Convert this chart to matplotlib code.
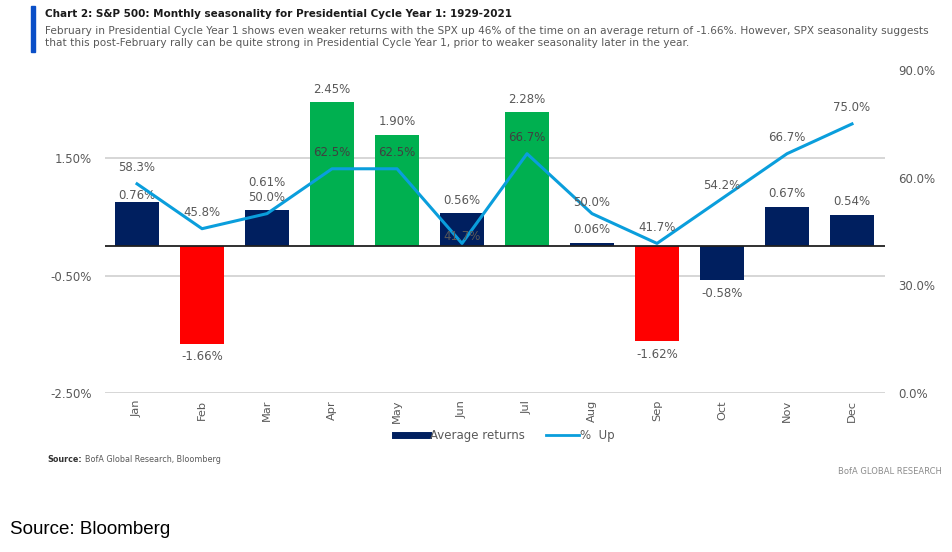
import matplotlib
matplotlib.use('Agg')

import matplotlib.pyplot as plt
from matplotlib.lines import Line2D
import numpy as np

# 데이터
months = ['Jan', 'Feb', 'Mar', 'Apr', 'May', 'Jun', 'Jul', 'Aug', 'Sep', 'Oct', 'Nov', 'Dec']
avg_returns = [0.76, -1.66, 0.61, 2.45, 1.90, 0.56, 2.28, 0.06, -1.62, -0.58, 0.67, 0.54]
pct_up = [58.3, 45.8, 50.0, 62.5, 62.5, 41.7, 66.7, 50.0, 41.7, 54.2, 66.7, 75.0]
left_ticks = [-2.5, -0.5, 1.5]
right_ticks = [0, 30, 60, 90]

NAVY = '#001F5F'
RED = '#FF0000'
GREEN = '#00B050'
LINE = '#0A9EDC'
GRAY = '#595959'

plt.rcParams['font.family'] = ['DejaVu Sans']

# 막대 색상: 강한 달은 초록, 약한 달은 빨강
green_months = ['Apr', 'May', 'Jul']
red_months = ['Feb', 'Sep']
colors = [GREEN if m in green_months else RED if m in red_months else NAVY for m in months]

fig = plt.figure(figsize=(9.52, 5.52), dpi=100)
ax = fig.add_axes([0.1098, 0.288, 0.8193, 0.585])
x = np.arange(len(months))

ax.bar(x, avg_returns, width=0.68, color=colors, zorder=2)
ax.set_xlim(-0.5, 11.5)
ax.set_ylim(-2.5, 3.0)
ax.set_yticks(left_ticks)
ax.set_yticklabels([f'{v:.2f}%' for v in left_ticks], color=GRAY, fontsize=8.5)
ax.set_xticks(x)
ax.set_xticklabels(months, rotation=90, color=GRAY, fontsize=8.2)
ax.tick_params(length=0, pad=9)
ax.tick_params(axis='x', pad=5)
for s in ax.spines.values():
    s.set_visible(False)
for t in left_ticks:
    ax.axhline(t, color='#D0D0D0', lw=1.2, zorder=1)
ax.axhline(0, color='#202020', lw=1.3, zorder=3)

# 막대 값 라벨
bar_offsets = {'Jan': 6, 'Mar': 28}
for i, (m, v) in enumerate(zip(months, avg_returns)):
    off = bar_offsets.get(m, 13) if v >= 0 else -13
    ax.annotate(f'{v:.2f}%', (i, v), xytext=(0, off * 0.72), textcoords='offset points',
                ha='center', va='center', color=GRAY, fontsize=8.5, zorder=4)

# 보조축: 상승 확률
ax2 = ax.twinx()
ax2.plot(x, pct_up, color=LINE, lw=2.2, zorder=5)
ax2.set_ylim(0, 90)
ax2.set_yticks(right_ticks)
ax2.set_yticklabels([f'{v:.1f}%' for v in right_ticks], color=GRAY, fontsize=8.5)
ax2.tick_params(length=0, pad=10)
for s in ax2.spines.values():
    s.set_visible(False)

line_offsets = {'Jun': 7, 'Aug': 11, 'Oct': 13}
for i, (m, v) in enumerate(zip(months, pct_up)):
    off = line_offsets.get(m, 16)
    ax2.annotate(f'{v:.1f}%', (i, v), xytext=(0, off * 0.72), textcoords='offset points',
                 ha='center', va='center', color='#404040' if m in green_months else GRAY,
                 fontsize=8.5, zorder=6)

# 범례
handles = [Line2D([], [], color=NAVY, lw=5), Line2D([], [], color=LINE, lw=2)]
fig.legend(handles, ['Average returns', '%  Up'], loc='center', bbox_to_anchor=(505 / 952, 1 - 436 / 552),
           ncol=2, frameon=False, fontsize=8.5, labelcolor=GRAY, handlelength=2.8,
           handletextpad=0.1, columnspacing=1.8)

# 제목 영역
fig.patches.append(plt.Rectangle((31 / 952, 1 - 52 / 552), 4 / 952, 46 / 552,
                                 transform=fig.transFigure, color='#0A4FC8', figure=fig))
fig.text(45 / 952, 1 - 14 / 552,
         'Chart 2: S&P 500: Monthly seasonality for Presidential Cycle Year 1: 1929-2021',
         fontsize=7.5, fontweight='bold', color='#1A1A1A', va='center')
fig.text(45 / 952, 1 - 37 / 552,
         'February in Presidential Cycle Year 1 shows even weaker returns with the SPX up 46% of the time on an average return of -1.66%. However, SPX seasonality suggests\n'
         'that this post-February rally can be quite strong in Presidential Cycle Year 1, prior to weaker seasonality later in the year.',
         fontsize=7.6, color=GRAY, va='center', linespacing=1.25)

# 출처
src = fig.text(47 / 952, 1 - 460 / 552, 'Source:', fontsize=5.8, fontweight='bold', color='#333333', va='center')
fig.canvas.draw()
src_end = src.get_window_extent().x1
fig.text((src_end + 3) / 952, 1 - 460 / 552, 'BofA Global Research, Bloomberg', fontsize=5.8,
         color=GRAY, va='center')
fig.text(942 / 952, 1 - 471 / 552, 'BofA GLOBAL RESEARCH', fontsize=6.0, color='#8C8C8C',
         va='center', ha='right')
fig.text(10 / 952, 1 - 530 / 552, 'Source: Bloomberg', fontsize=13.5, color='black',
         va='center', family=['Liberation Sans', 'DejaVu Sans'])

plt.savefig('out.png', dpi=100)
plt.close()
